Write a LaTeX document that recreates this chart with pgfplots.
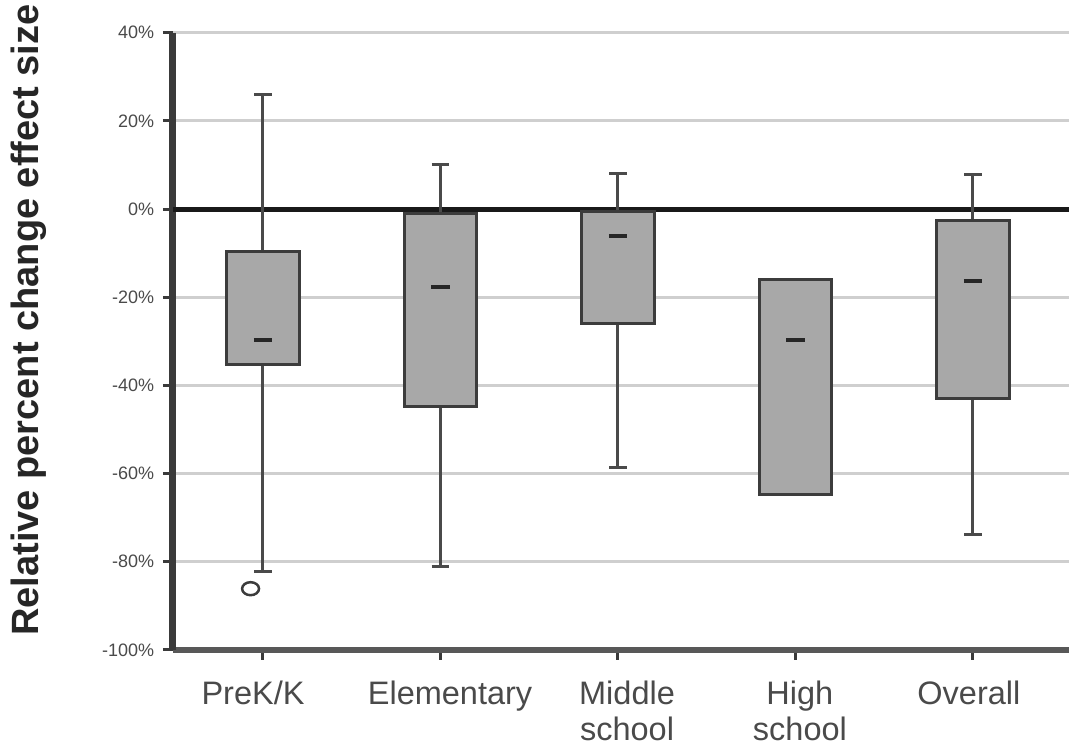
\documentclass[border=0pt]{standalone}
\usepackage{fontspec}
\setmainfont{Liberation Sans}
\usepackage{pgfplots}
\pgfplotsset{compat=1.18}
\usepgfplotslibrary{statistics}
\usetikzlibrary{calc}
\definecolor{boxfill}{HTML}{A8A8A8}
\definecolor{boxedge}{HTML}{3C3C3C}
\definecolor{whiskc}{HTML}{4A4A4A}
\definecolor{gridc}{HTML}{CFCFCF}
\definecolor{axisc}{HTML}{3A3A3A}
\definecolor{txtc}{HTML}{4A4A4A}
\begin{document}
\begin{tikzpicture}
\begin{axis}[
  scale only axis, width=358.4pt, height=246.9pt,
  xmin=0.493, xmax=5.541, ymin=-100, ymax=40,
  axis x line*=bottom, axis y line*=left,
  separate axis lines,
  x axis line style={line width=2.4pt, color=axisc!85},
  y axis line style={line width=2.8pt, color=axisc},
  ytick={-100,-80,...,40},
  yticklabel={\pgfmathprintnumber{\tick}\%},
  /pgf/number format/assume math mode=true,
  yticklabel style={font=\fontsize{7.2}{8}\selectfont, text=txtc},
  ymajorgrids, grid style={gridc, line width=1.2pt},
  xtick={1,2,3,4,5}, xticklabels={,,,,},
  extra x ticks={0.944,2.054,3.051,4.025,4.977},
  extra x tick labels={PreK/K,Elementary,{Middle\\school},{High\\school},Overall},
  extra x tick style={major tick length=0pt, tick style={draw=none}},
  xticklabel style={align=center, font=\fontsize{13}{14.4}\selectfont, text=txtc, yshift=-9pt},
  tick align=outside, major tick length=4pt,
  tick style={axisc, line width=1.2pt},
  ylabel={Relative percent change effect size},
  ylabel style={font=\bfseries\fontsize{15.2}{17}\selectfont, text=black!85,
    at={(axis description cs:-0.1607,0.5346)}, anchor=center},
  boxplot/draw direction=y,
  boxplot/every box/.style={fill=boxfill, draw=boxedge, line width=1.2pt},
  boxplot/every whisker/.style={draw=whiskc, line width=1.2pt},
  boxplot/box extend=0.41,
  boxplot/whisker extend=0.1,
  boxplot/draw/median/.code={%
    \draw[black!85, line width=1.6pt]
      (boxplot box cs:\pgfplotsboxplotvalue{median},0.375) --
      (boxplot box cs:\pgfplotsboxplotvalue{median},0.625);},
]
\coordinate (SW) at (rel axis cs:0,0);
\coordinate (NE) at (rel axis cs:1,1);
\addplot[black!90, line width=2pt, forget plot] coordinates {(0.493,0) (5.541,0)};
\addplot[boxplot prepared={draw position=1, lower whisker=-82.2, lower quartile=-35.3,
  median=-29.6, upper quartile=-9.6, upper whisker=26.0}] coordinates {};
\addplot[boxplot prepared={draw position=2, lower whisker=-81.1, lower quartile=-44.8,
  median=-17.6, upper quartile=-1.1, upper whisker=10.1}] coordinates {};
\addplot[boxplot prepared={draw position=3, lower whisker=-58.7, lower quartile=-26.0,
  median=-6.1, upper quartile=-0.5, upper whisker=8.0}] coordinates {};
\addplot[boxplot prepared={draw position=4, lower whisker=-64.7, lower quartile=-64.7,
  median=-29.6, upper quartile=-16.0, upper whisker=-16.0}] coordinates {};
\addplot[boxplot prepared={draw position=5, lower whisker=-73.8, lower quartile=-42.9,
  median=-16.4, upper quartile=-2.7, upper whisker=7.8}] coordinates {};
\addplot[only marks, mark=o, mark size=2.6pt,
  mark options={line width=1pt, draw=boxedge, xscale=1.3}] coordinates {(0.93,-86.1)};
\end{axis}
\pgfresetboundingbox
\path[use as bounding box] ($(SW)+(-69.2pt,-41.2pt)$) rectangle ($(NE)+(0pt,13.1pt)$);
\end{tikzpicture}
\end{document}
